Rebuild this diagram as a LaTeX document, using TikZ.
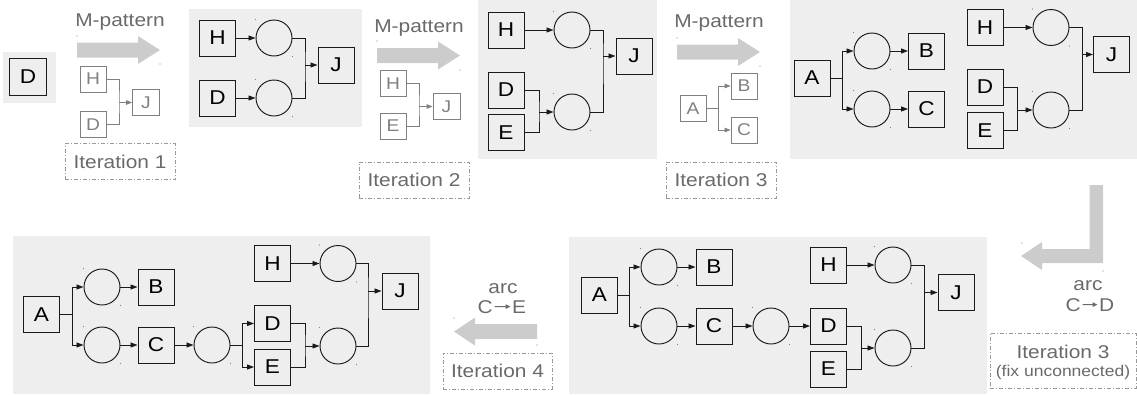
\documentclass[tikz,border=0pt]{standalone}
\usepackage{fontspec}
\setmainfont{Liberation Sans}[FakeStretch=1.13]
\usetikzlibrary{arrows.meta}
\definecolor{panelbg}{HTML}{EEEEEE}
\definecolor{bigarr}{HTML}{CCCCCC}
\definecolor{lblgray}{HTML}{6A6A6A}
\definecolor{smallgray}{HTML}{808080}
\definecolor{dashgray}{HTML}{999999}
\definecolor{pipgray}{HTML}{808080}
\definecolor{ink}{HTML}{1A1A1A}
\newcommand\mypip[1]{%
  \fill[pipgray] ([shift={(-18.5,-18.5)}]#1.center) circle (0.6);
  \fill[pipgray] ([shift={(18.5,18.5)}]#1.center) circle (0.6);}
\begin{document}
\begin{tikzpicture}[x=1pt,y=-1pt,
  bx/.style={draw=ink, text=black, line width=0.95pt, minimum width=36pt, minimum height=36pt, inner sep=0pt, font=\fontsize{20}{20}\selectfont},
  sbx/.style={draw=smallgray, text=smallgray, line width=0.8pt, minimum width=26pt, minimum height=26pt, inner sep=0pt, font=\fontsize{17}{17}\selectfont},
  pl/.style={circle, draw=ink, line width=0.95pt, minimum size=36pt, inner sep=0pt},
  ar/.style={draw=ink, line width=0.9pt, -{Triangle[length=7pt,width=5pt]}},
  ln/.style={draw=ink, line width=0.9pt},
  sar/.style={draw=smallgray, line width=0.8pt, -{Triangle[length=6pt,width=4.5pt]}},
  sln/.style={draw=smallgray, line width=0.8pt},
  gar/.style={draw=lblgray, line width=1pt, shorten <=1.5pt, shorten >=1.5pt, -{Triangle[length=5pt,width=4.5pt]}},
  panel/.style={fill=panelbg},
  bigar/.style={fill=bigarr},
  lbl/.style={text=lblgray, font=\fontsize{18.5}{18.5}\selectfont, inner sep=0pt},
  itbox/.style={draw=dashgray, line width=0.9pt, dash pattern=on 4pt off 2pt on 1pt off 2pt, text=lblgray, font=\fontsize{18.5}{18.5}\selectfont, minimum width=110pt, minimum height=36pt, inner sep=0pt}
]
\useasboundingbox (0,0) rectangle (1137,394);

% ---------- panels ----------
\fill[panel] (3,52) rectangle (56,103);
\fill[panel] (189,9) rectangle (362,127);
\fill[panel] (478,0) rectangle (657,159);
\fill[panel] (790,0) rectangle (1137,159);
\fill[panel] (13,236) rectangle (430,394);
\fill[panel] (569,237) rectangle (987,394);

% ---------- big grey arrows ----------
\fill[bigar] (77,42.5) -- (138,42.5) -- (138,36) -- (160,50) -- (138,64) -- (138,57.5) -- (77,57.5) -- cycle;
\fill[bigar] (377,48) -- (438,48) -- (438,41.5) -- (460,55.5) -- (438,69.5) -- (438,63) -- (377,63) -- cycle;
\fill[bigar] (677,44.5) -- (738,44.5) -- (738,38) -- (760,52) -- (738,66) -- (738,59.5) -- (677,59.5) -- cycle;
\fill[bigar] (537,324) -- (475,324) -- (475,317.5) -- (454,331.5) -- (475,345.5) -- (475,339) -- (537,339) -- cycle;
\fill[bigar] (1089.5,185) -- (1103,185) -- (1103,263) -- (1042,263) -- (1042,270) -- (1021,256) -- (1042,242) -- (1042,249) -- (1089.5,249) -- cycle;
\foreach \p in {(77,36),(160,64),(377,41),(460,70),(677,38),(760,66),(454,318),(537,345),(1022,243),(1103,271)}
  \fill[pipgray] \p circle (0.6);

% ---------- panel 0 ----------
\node[bx, minimum width=37pt, minimum height=37pt] (d0) at (28,76.5) {D};

% ---------- step 1 ----------
\node[lbl, anchor=base] (mp1) at (120,26) {M-pattern};
\node[sbx] (s1h) at (93,79) {H};
\node[sbx] (s1d) at (93,124.5) {D};
\node[sbx, minimum width=27pt] (s1j) at (146,102.5) {J};
\coordinate (s1k) at (119,102.5);
\draw[sln] (s1h.east) -| (s1k) |- (s1d.east);
\draw[sar] (s1k) -- (s1j.west);
\node[itbox] (it1) at (120,161.5) {Iteration 1};

% ---------- panel 1 ----------
\node[bx] (h1) at (217.5,38) {H};
\node[bx] (d1) at (217.5,98) {D};
\node[pl] (c1a) at (274,38) {};
\node[pl] (c1b) at (274,98) {};
\node[bx] (j1) at (336,65) {J};
\coordinate (k1) at (305,65);
\draw[ar] (h1.east) -- (c1a.west);
\draw[ar] (d1.east) -- (c1b.west);
\draw[ln] (c1a.east) -| (k1) |- (c1b.east);
\draw[ar] (k1) -- (j1.west);
\mypip{c1a}\mypip{c1b}

% ---------- step 2 ----------
\node[lbl, anchor=base] (mp2) at (419,32) {M-pattern};
\node[sbx] (s2h) at (393,83.5) {H};
\node[sbx] (s2e) at (393,126) {E};
\node[sbx, minimum width=27pt] (s2j) at (446.5,106.5) {J};
\coordinate (s2k) at (419,106.5);
\draw[sln] (s2h.east) -| (s2k) |- (s2e.east);
\draw[sar] (s2k) -- (s2j.west);
\node[itbox] (it2) at (414,180) {Iteration 2};

% ---------- panel 2 ----------
\node[bx] (h2) at (506,30) {H};
\node[bx] (d2) at (506,90) {D};
\node[bx] (e2) at (506,132.5) {E};
\node[pl] (c2a) at (572,30) {};
\node[pl] (c2b) at (572,112) {};
\node[bx] (j2) at (634,56) {J};
\coordinate (k2a) at (539,112);
\coordinate (k2b) at (603,56);
\draw[ar] (h2.east) -- (c2a.west);
\draw[ln] (d2.east) -| (k2a) |- (e2.east);
\draw[ar] (k2a) -- (c2b.west);
\draw[ln] (c2a.east) -| (k2b) |- (c2b.east);
\draw[ar] (k2b) -- (j2.west);
\mypip{c2a}\mypip{c2b}

% ---------- step 3 ----------
\node[lbl, anchor=base] (mp3) at (719,27) {M-pattern};
\node[sbx] (s3a) at (693,108.5) {A};
\node[sbx] (s3b) at (744,86) {B};
\node[sbx] (s3c) at (744,130) {C};
\coordinate (s3k) at (718,108.5);
\draw[sln] (s3a.east) -- (s3k);
\draw[sar] (s3k) |- (s3b.west);
\draw[sar] (s3k) |- (s3c.west);
\node[itbox] (it3) at (721,180) {Iteration 3};

% ---------- panel 3 ----------
\node[bx] (a3) at (812,78) {A};
\coordinate (k3a) at (842,78);
\node[pl] (c3u) at (872,51) {};
\node[pl] (c3l) at (872,109) {};
\node[bx] (b3) at (926.5,51) {B};
\node[bx] (cc3) at (926.5,109) {C};
\node[bx] (h3) at (985,27.5) {H};
\node[bx] (d3) at (985,87) {D};
\node[bx] (e3) at (985,130.5) {E};
\node[pl] (c3h) at (1051,27.5) {};
\node[pl] (c3r) at (1051,110) {};
\node[bx] (j3) at (1111.5,54.5) {J};
\coordinate (k3b) at (1017,110);
\coordinate (k3c) at (1082,54.5);
\draw[ln] (a3.east) -- (k3a);
\draw[ar] (k3a) |- (c3u.west);
\draw[ar] (k3a) |- (c3l.west);
\draw[ar] (c3u.east) -- (b3.west);
\draw[ar] (c3l.east) -- (cc3.west);
\draw[ar] (h3.east) -- (c3h.west);
\draw[ln] (d3.east) -| (k3b) |- (e3.east);
\draw[ar] (k3b) -- (c3r.west);
\draw[ln] (c3h.east) -| (k3c) |- (c3r.east);
\draw[ar] (k3c) -- (j3.west);
\mypip{c3u}\mypip{c3l}\mypip{c3h}\mypip{c3r}

% ---------- step 3 fix ----------
\node[lbl, anchor=base] (arc5) at (1088,290) {arc};
\node[lbl, anchor=base east] (arc5c) at (1081,311) {C};
\node[lbl, anchor=base west] (arc5d) at (1099,311) {D};
\draw[gar] (arc5c.east) -- (arc5d.west);
\node[itbox, minimum width=146pt, minimum height=55pt] (it5) at (1063,360.5) {};
\node[lbl, anchor=base] (it5a) at (1063,358) {Iteration 3};
\node[lbl, anchor=base, font=\fontsize{15.5}{15.5}\selectfont] (it5b) at (1063,376) {(fix unconnected)};

% ---------- panel 5 ----------
\node[bx] (a5) at (599.5,295) {A};
\coordinate (k5a) at (629,295);
\node[pl] (c5u) at (659,267) {};
\node[pl] (c5l) at (659,326) {};
\node[bx] (b5) at (714,267) {B};
\node[bx] (cc5) at (714,326) {C};
\node[pl] (c5m) at (771,326) {};
\node[bx] (d5) at (828.5,326) {D};
\node[bx] (e5) at (828.5,369) {E};
\node[bx] (h5) at (828.5,265) {H};
\node[pl] (c5h) at (893,265) {};
\node[pl] (c5r) at (893,348) {};
\node[bx] (j5) at (956,292.5) {J};
\coordinate (k5b) at (861,348);
\coordinate (k5c) at (924,292.5);
\draw[ln] (a5.east) -- (k5a);
\draw[ar] (k5a) |- (c5u.west);
\draw[ar] (k5a) |- (c5l.west);
\draw[ar] (c5u.east) -- (b5.west);
\draw[ar] (c5l.east) -- (cc5.west);
\draw[ar] (cc5.east) -- (c5m.west);
\draw[ar] (c5m.east) -- (d5.west);
\draw[ar] (h5.east) -- (c5h.west);
\draw[ln] (d5.east) -| (k5b) |- (e5.east);
\draw[ar] (k5b) -- (c5r.west);
\draw[ln] (c5h.east) -| (k5c) |- (c5r.east);
\draw[ar] (k5c) -- (j5.west);
\mypip{c5u}\mypip{c5l}\mypip{c5m}\mypip{c5h}\mypip{c5r}

% ---------- step 4 ----------
\node[lbl, anchor=base] (arc4) at (503,293) {arc};
\node[lbl, anchor=base east] (arc4c) at (493,313) {C};
\node[lbl, anchor=base west] (arc4e) at (512,313) {E};
\draw[gar] (arc4c.east) -- (arc4e.west);
\node[itbox, minimum width=109pt] (it4) at (497.5,371) {Iteration 4};

% ---------- panel 4 ----------
\node[bx] (a4) at (41.5,314.5) {A};
\coordinate (k4a) at (72,314.5);
\node[pl] (c4u) at (102,287) {};
\node[pl] (c4l) at (102,345) {};
\node[bx] (b4) at (156,287) {B};
\node[bx] (cc4) at (156,345) {C};
\node[pl] (c4m) at (212,345) {};
\coordinate (k4b) at (242,345);
\node[bx] (d4) at (272.5,323.5) {D};
\node[bx] (e4) at (272.5,367) {E};
\node[bx] (h4) at (272.5,263.5) {H};
\node[pl] (c4h) at (338,263.5) {};
\node[pl] (c4r) at (338,346) {};
\node[bx] (j4) at (400,291) {J};
\coordinate (k4c) at (305,346);
\coordinate (k4d) at (368,291);
\draw[ln] (a4.east) -- (k4a);
\draw[ar] (k4a) |- (c4u.west);
\draw[ar] (k4a) |- (c4l.west);
\draw[ar] (c4u.east) -- (b4.west);
\draw[ar] (c4l.east) -- (cc4.west);
\draw[ar] (cc4.east) -- (c4m.west);
\draw[ln] (c4m.east) -- (k4b);
\draw[ar] (k4b) |- (d4.west);
\draw[ar] (k4b) |- (e4.west);
\draw[ar] (h4.east) -- (c4h.west);
\draw[ln] (d4.east) -| (k4c) |- (e4.east);
\draw[ar] (k4c) -- (c4r.west);
\draw[ln] (c4h.east) -| (k4d) |- (c4r.east);
\draw[ar] (k4d) -- (j4.west);
\mypip{c4u}\mypip{c4l}\mypip{c4m}\mypip{c4h}\mypip{c4r}
\end{tikzpicture}
\end{document}
